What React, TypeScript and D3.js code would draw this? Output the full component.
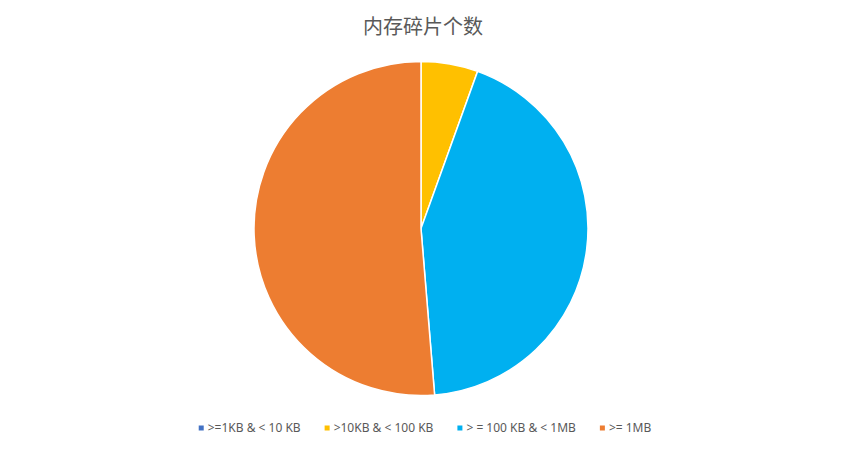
import * as d3 from "d3";
import { useRef, useEffect } from "react";

const title = "内存碎片个数";
const categories = [">=1KB & < 10 KB", ">10KB & < 100 KB", "> = 100 KB & < 1MB", ">= 1MB"];
const values = [0, 5.5, 43.2, 51.3];
const colors = ["#4472C4", "#FFC000", "#00B0F0", "#ED7D31"];

export default function App() {
  const width = 846;
  const height = 453;
  const cx = 421;
  const cy = 228.5;
  const radius = 167;
  const legendRef = useRef<SVGGElement>(null);

  const pie = d3.pie<number>().sort(null).value((d) => d);
  const arcs = pie(values);
  const arc = d3.arc<d3.PieArcDatum<number>>().innerRadius(0).outerRadius(radius);

  useEffect(() => {
    const g = d3.select(legendRef.current);
    g.selectAll("*").remove();
    const items = g
      .selectAll("g")
      .data(categories)
      .join("g");
    items
      .append("rect")
      .attr("width", 5)
      .attr("height", 5)
      .attr("y", -6.5)
      .attr("fill", (_, i) => colors[i]);
    const texts = items
      .append("text")
      .attr("x", 9)
      .attr("font-size", 12)
      .attr("fill", "#595959")
      .text((d) => d);
    const widths = texts.nodes().map((n) => (n as SVGTextElement).getComputedTextLength() + 9);
    const gap = 24;
    const total = d3.sum(widths) + gap * (widths.length - 1);
    let x = 425 - total / 2;
    items.attr("transform", (_, i) => {
      const t = `translate(${x},432)`;
      x += widths[i] + gap;
      return t;
    });
  }, []);

  return (
    <svg width={width} height={height} style={{ display: "block", margin: "-8px", fontFamily: "'Noto Sans', 'Noto Sans CJK SC', sans-serif" }}>
      <rect width={width} height={height} fill="#fff" />
      <text x={423} y={34} textAnchor="middle" fontSize={20} fill="#595959" fontFamily="'Noto Sans CJK SC', sans-serif">
        {title}
      </text>
      <g transform={`translate(${cx},${cy})`}>
        {arcs.map((a, i) => (
          <path key={i} d={arc(a) || ""} fill={colors[i]} stroke="#fff" strokeWidth={1.5} />
        ))}
      </g>
      <g ref={legendRef} />
    </svg>
  );
}
